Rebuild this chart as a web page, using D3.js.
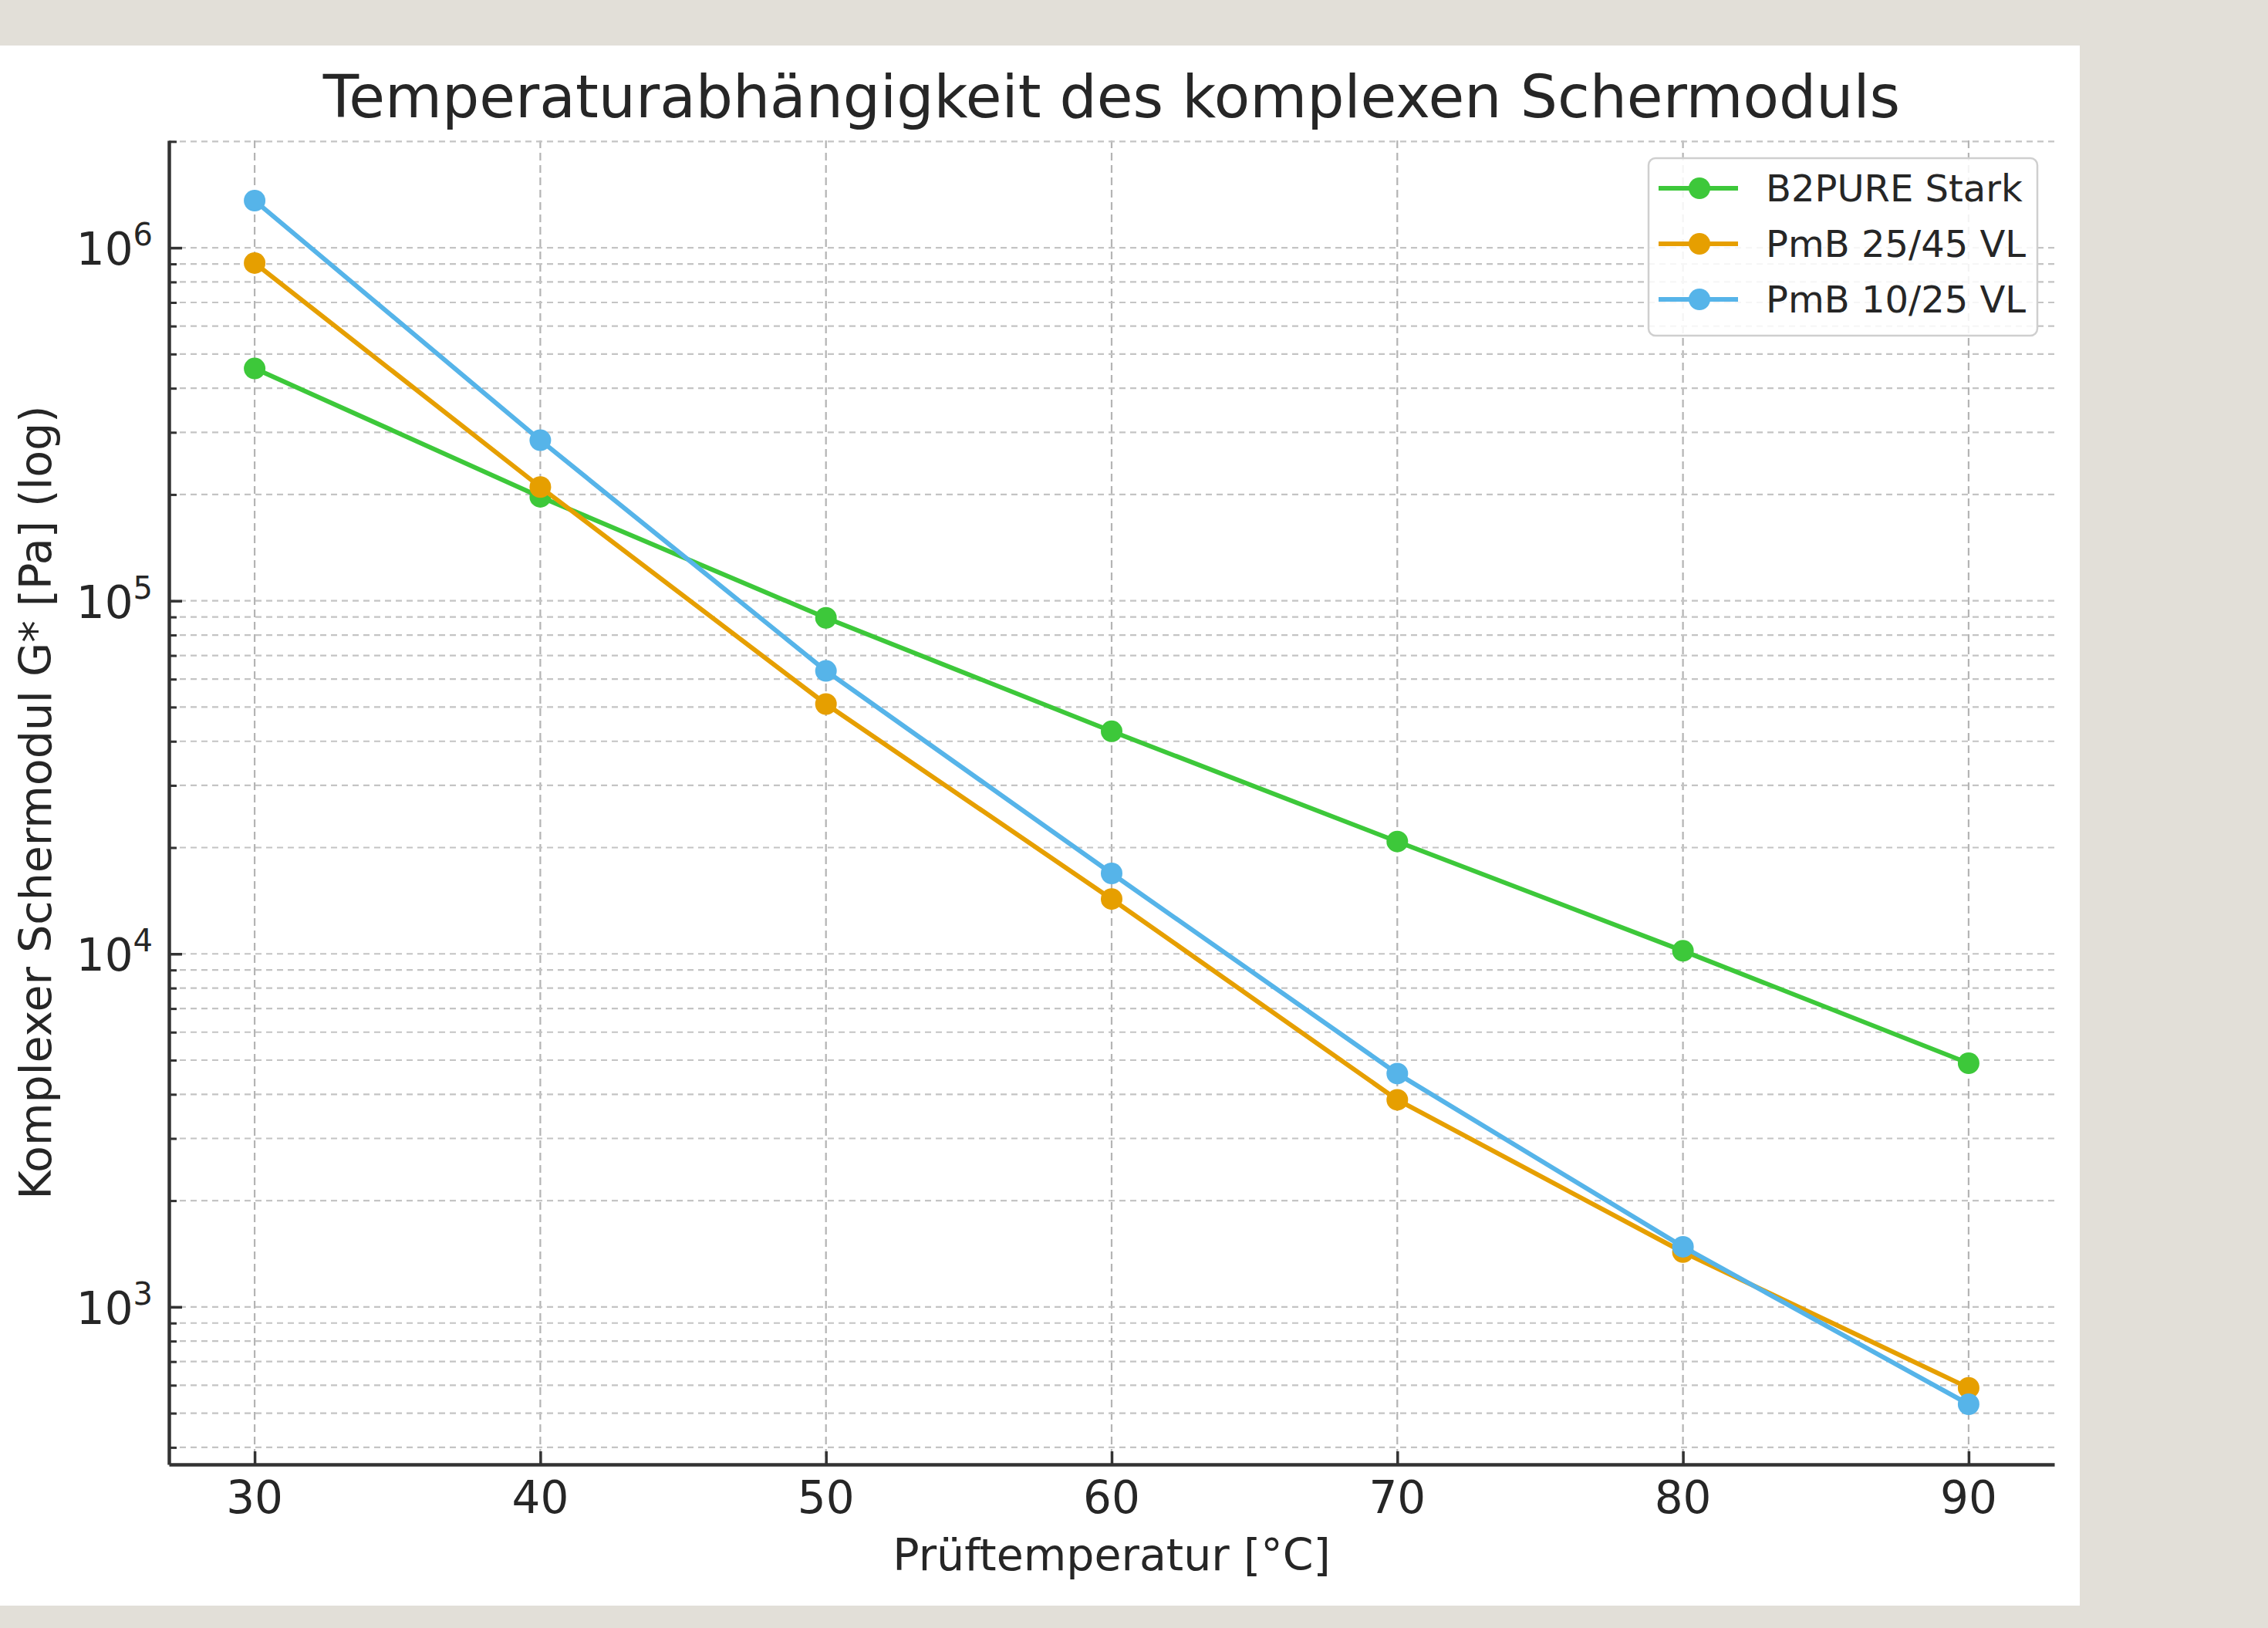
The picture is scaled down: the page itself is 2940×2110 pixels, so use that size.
<!DOCTYPE html>
<html lang="de">
<head>
<meta charset="utf-8">
<title>Temperaturabhängigkeit des komplexen Schermoduls</title>
<script src="https://cdn.jsdelivr.net/npm/d3@7"></script>
<style>
  html, body { margin: 0; padding: 0; background: #e2dfd8; }
  svg { display: block; }
  text { font-family: "DejaVu Sans", sans-serif; fill: #262626; }
</style>
</head>
<body>
<svg id="chart" width="2940" height="2110"></svg>
<script>
// ── Daten ──
const temps    = [30, 40, 50, 60, 70, 80, 90];
const b2pure   = [4.55e5, 1.97e5, 8.95e4, 4.27e4, 2.08e4, 1.02e4, 4.9e3];
const pmb2545  = [9.05e5, 2.10e5, 5.10e4, 1.43e4, 3.86e3, 1.43e3, 590];
const pmb1025  = [1.36e6, 2.85e5, 6.33e4, 1.69e4, 4.58e3, 1.48e3, 530];

const seriesNames  = ["B2PURE Stark", "PmB 25/45 VL", "PmB 10/25 VL"];
const seriesValues = [b2pure, pmb2545, pmb1025];
const seriesColors = ["#3dc83a", "#e69f00", "#56b4e9"];

const xTicks   = [30, 40, 50, 60, 70, 80, 90];
const yTickExp = [3, 4, 5, 6];

const titleText  = "Temperaturabhängigkeit des komplexen Schermoduls";
const xLabelText = "Prüftemperatur [°C]";
const yLabelText = "Komplexer Schermodul G* [Pa] (log)";

// ── Layout ──
const panel = { x: 0, y: 59, w: 2696, h: 2022 };
const plot  = { left: 219, right: 2663, top: 182, bottom: 1898 };
const INK = "#262626";
const LW = 6, MR = 14;

const svg = d3.select("#chart");

svg.append("rect")
  .attr("x", panel.x).attr("y", panel.y)
  .attr("width", panel.w).attr("height", panel.h)
  .attr("fill", "#ffffff");

// ── Skalen (5 % Rand wie matplotlib) ──
const xExt = d3.extent(temps);
const xPad = (xExt[1] - xExt[0]) * 0.05;
const x = d3.scaleLinear()
  .domain([xExt[0] - xPad, xExt[1] + xPad])
  .range([plot.left, plot.right]);

const allVals = seriesValues.flat();
const lo = Math.log10(d3.min(allVals));
const hi = Math.log10(d3.max(allVals));
const yPad = (hi - lo) * 0.05;
const y = d3.scaleLog()
  .domain([10 ** (lo - yPad), 10 ** (hi + yPad)])
  .range([plot.bottom, plot.top]);

const yMajor = yTickExp.map(e => 10 ** e);
const yMinor = [];
d3.range(2, 7).forEach(e => {
  d3.range(2, 10).forEach(m => {
    const v = m * 10 ** e;
    if (v >= y.domain()[0] && v <= y.domain()[1]) yMinor.push(v);
  });
});

// ── Gitter ──
const grid = svg.append("g")
  .attr("stroke", "#b4b4b4")
  .attr("stroke-width", 2.2)
  .attr("stroke-dasharray", "10,6");

grid.selectAll("line.gx")
  .data(xTicks).join("line")
  .attr("class", "gx")
  .attr("x1", d => x(d)).attr("x2", d => x(d))
  .attr("y1", plot.top).attr("y2", plot.bottom);

grid.selectAll("line.gy")
  .data([...yMajor, ...yMinor]).join("line")
  .attr("class", "gy")
  .attr("stroke", "#c4c4c4")
  .attr("stroke-dasharray", "8,6")
  .attr("x1", plot.left).attr("x2", plot.right)
  .attr("y1", d => y(d)).attr("y2", d => y(d));

// ── Linien + Marker ──
const line = d3.line()
  .x(d => x(d.t))
  .y(d => y(d.v));

seriesNames.forEach((name, i) => {
  const pts = temps.map((t, j) => ({ t, v: seriesValues[i][j] }));
  const g = svg.append("g");
  g.append("path")
    .datum(pts)
    .attr("d", line)
    .attr("fill", "none")
    .attr("stroke", seriesColors[i])
    .attr("stroke-width", LW)
    .attr("stroke-linejoin", "round");
  g.selectAll("circle")
    .data(pts).join("circle")
    .attr("cx", d => x(d.t)).attr("cy", d => y(d.v))
    .attr("r", MR)
    .attr("fill", seriesColors[i]);
});

// ── Achsen (Ticks nach innen, nur links/unten) ──
const xAxis = svg.append("g")
  .attr("transform", `translate(0,${plot.bottom})`)
  .call(d3.axisBottom(x).tickValues(xTicks).tickSizeInner(-17).tickSizeOuter(0).tickFormat(""));

const yAxisMinor = svg.append("g")
  .attr("transform", `translate(${plot.left},0)`)
  .call(d3.axisLeft(y).tickValues(yMinor).tickSizeInner(-10).tickSizeOuter(0).tickFormat(""));

const yAxis = svg.append("g")
  .attr("transform", `translate(${plot.left},0)`)
  .call(d3.axisLeft(y).tickValues(yMajor).tickSizeInner(-17).tickSizeOuter(0).tickFormat(""));

[xAxis, yAxis].forEach(ax => {
  ax.select(".domain").attr("stroke", "#333").attr("stroke-width", 4.5);
});
xAxis.selectAll(".tick line").attr("stroke", "#333").attr("stroke-width", 3.5);
yAxis.selectAll(".tick line").attr("stroke", "#333").attr("stroke-width", 3.5);
yAxisMinor.selectAll(".tick line").attr("stroke", "#333").attr("stroke-width", 3);
yAxisMinor.select(".domain").remove();

// Tick-Beschriftung x
svg.append("g").selectAll("text")
  .data(xTicks).join("text")
  .attr("x", d => x(d))
  .attr("y", plot.bottom + 63)
  .attr("text-anchor", "middle")
  .attr("font-size", 58)
  .attr("fill", INK)
  .text(d => d);

// Tick-Beschriftung y als 10^n
const yLab = svg.append("g").selectAll("text")
  .data(yTickExp).join("text")
  .attr("x", 198)
  .attr("y", d => y(10 ** d) + 22)
  .attr("text-anchor", "end")
  .attr("font-size", 58)
  .attr("fill", INK);
yLab.append("tspan").text("10");
yLab.append("tspan")
  .attr("font-size", 40)
  .attr("dy", -25)
  .text(d => d);

// ── Titel und Achsentitel ──
svg.append("text")
  .attr("x", (plot.left + plot.right) / 2)
  .attr("y", 152)
  .attr("text-anchor", "middle")
  .attr("font-size", 76)
  .attr("fill", INK)
  .text(titleText);

svg.append("text")
  .attr("x", (plot.left + plot.right) / 2)
  .attr("y", 2035)
  .attr("text-anchor", "middle")
  .attr("font-size", 57)
  .attr("fill", INK)
  .text(xLabelText);

svg.append("text")
  .attr("transform", `translate(66,${(plot.top + plot.bottom) / 2}) rotate(-90)`)
  .attr("text-anchor", "middle")
  .attr("font-size", 57)
  .attr("fill", INK)
  .text(yLabelText);

// ── Legende ──
const leg = svg.append("g").attr("transform", "translate(2137,205)");
leg.append("rect")
  .attr("width", 504).attr("height", 230)
  .attr("rx", 9)
  .attr("fill", "#ffffff").attr("fill-opacity", 0.85)
  .attr("stroke", "#cfcfcf").attr("stroke-width", 2.5);

const rows = leg.selectAll("g.row")
  .data(seriesNames).join("g")
  .attr("class", "row")
  .attr("transform", (d, i) => `translate(0,${39 + i * 72})`);

rows.append("line")
  .attr("x1", 13).attr("x2", 116)
  .attr("stroke", (d, i) => seriesColors[i])
  .attr("stroke-width", LW);
rows.append("circle")
  .attr("cx", 66).attr("r", MR)
  .attr("fill", (d, i) => seriesColors[i]);
rows.append("text")
  .attr("x", 152).attr("y", 17)
  .attr("font-size", 48)
  .attr("fill", INK)
  .text(d => d);
</script>
</body>
</html>
